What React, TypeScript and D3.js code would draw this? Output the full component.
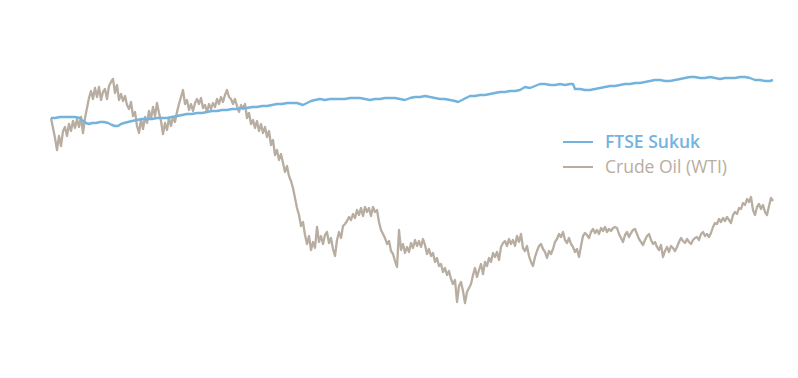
import React from "react";
import * as d3 from "d3";

// Crude Oil (WTI) — relative level, one reading every 2 days (day = 2 * index)
const oilValues: number[] = [
  282,272,262,250,264,254,269,273,264,276,269,279,272,281,273,283,267,282,292,302,
  309,301,312,303,313,300,308,311,301,314,318,321,307,315,300,306,299,304,295,291,
  298,284,288,274,267,281,271,283,277,289,281,293,284,297,287,279,266,277,270,282,
  274,283,278,288,296,303,310,296,300,290,296,289,297,301,296,302,292,295,288,296,
  291,297,293,301,296,303,298,305,310,303,301,296,301,294,288,295,291,296,282,287,
  276,280,272,279,269,276,267,273,263,269,255,260,245,250,240,246,237,228,234,224,
  219,212,202,192,185,174,178,165,156,164,150,158,152,173,158,164,156,165,168,157,
  162,151,144,160,168,162,174,176,179,183,180,186,182,190,185,192,184,193,188,192,
  184,193,188,190,178,170,166,162,156,159,149,146,139,133,170,150,156,147,153,148,
  157,152,160,154,159,153,161,155,146,151,144,147,138,142,134,136,128,132,125,129,
  121,116,120,98,114,118,109,97,108,112,116,125,132,123,130,136,126,138,134,142,
  138,147,143,148,140,153,157,159,154,161,156,160,154,164,158,166,152,149,154,144,
  138,134,143,149,154,156,151,148,142,149,146,151,158,161,166,163,168,160,157,162,
  156,153,148,151,143,154,164,167,165,162,168,171,167,170,166,172,169,173,168,171,
  169,172,173,172,166,162,158,165,168,163,167,170,171,166,161,158,155,160,164,166,
  160,156,158,153,150,155,143,149,153,148,154,152,149,153,158,162,159,157,161,158,
  156,160,162,163,160,166,168,164,166,163,167,173,177,176,181,178,182,179,183,180,
  177,185,188,186,192,191,197,195,201,198,203,190,185,193,196,191,195,188,185,194,
  202,199
];

// FTSE Sukuk — day positions and relative levels
const sukukDays: number[] = [
  0,4,9,14,19,24,29,32,35,38,41,45,49,53,57,61,64,67,70,73,77,81,86,91,96,101,106,111,116,
  121,126,131,136,141,146,151,156,161,166,171,176,181,186,191,196,201,206,211,216,221,226,
  231,236,241,246,249,252,256,260,264,269,274,279,284,289,294,299,304,309,314,319,324,329,
  334,339,344,349,354,359,364,369,374,379,384,389,394,399,404,407,411,415,419,424,429,434,
  439,444,449,454,459,464,469,474,479,484,489,494,499,504,509,514,519,522,524,529,534,539,
  544,549,554,559,564,569,574,579,584,589,594,599,604,609,614,619,624,629,634,639,644,649,
  654,659,664,669,674,679,684,689,694,699,704,709,714,719,722
];
const sukukValues: number[] = [
  282,282,283,283,283,283,282,279,277,276,277,277,278,278,277,275,274,274,276,277,278,279,280,281,281,281,282,282,282,
  283,284,285,286,286,287,287,288,289,289,290,290,291,291,292,292,293,293,294,294,295,296,
  296,297,297,297,296,295,297,299,300,301,300,301,301,301,301,302,302,302,301,300,301,301,
  302,302,302,301,300,302,303,303,304,303,302,301,301,300,299,298,300,302,304,304,305,305,
  306,307,308,308,309,309,310,313,312,314,316,316,315,315,316,315,316,316,311,311,310,310,
  311,312,313,314,314,315,316,316,317,317,318,319,320,320,319,319,320,321,322,323,323,322,
  322,323,322,321,322,322,322,323,323,322,320,320,319,319,320
];

const seriesNames = ["FTSE Sukuk", "Crude Oil (WTI)"];
const colors = ["#74b3de", "#b8ada1"];

export default function App() {
  const W = 798, H = 378;
  const x = d3.scaleLinear().domain([0, 722]).range([51, 773]);
  const y = d3.scaleLinear().domain([100, 340]).range([300, 60]);

  const oilLine = d3.line<number>()
    .x((_, i) => x(i * 2))
    .y((d) => y(d));
  const sukukLine = d3.line<number>()
    .x((_, i) => x(sukukDays[i]))
    .y((d) => y(d));

  const legendY = [142, 167];

  return (
    <svg width={W} height={H} style={{ position: "absolute", left: 0, top: 0, background: "#fff" }}>
      <path d={oilLine(oilValues) ?? ""} fill="none" stroke={colors[1]} strokeWidth={2.3} strokeLinejoin="round" />
      <path d={sukukLine(sukukValues) ?? ""} fill="none" stroke={colors[0]} strokeWidth={2.4} strokeLinejoin="round" />
      {seriesNames.map((n, i) => (
        <g key={n}>
          <line x1={563} x2={593} y1={legendY[i]} y2={legendY[i]} stroke={colors[i]} strokeWidth={2} />
          <text
            x={605}
            y={legendY[i] + 6}
            fill={colors[i]}
            fontFamily="'Open Sans', sans-serif"
            fontSize={17.5}
            fontWeight={i === 0 ? 600 : 400}
          >
            {n}
          </text>
        </g>
      ))}
    </svg>
  );
}
